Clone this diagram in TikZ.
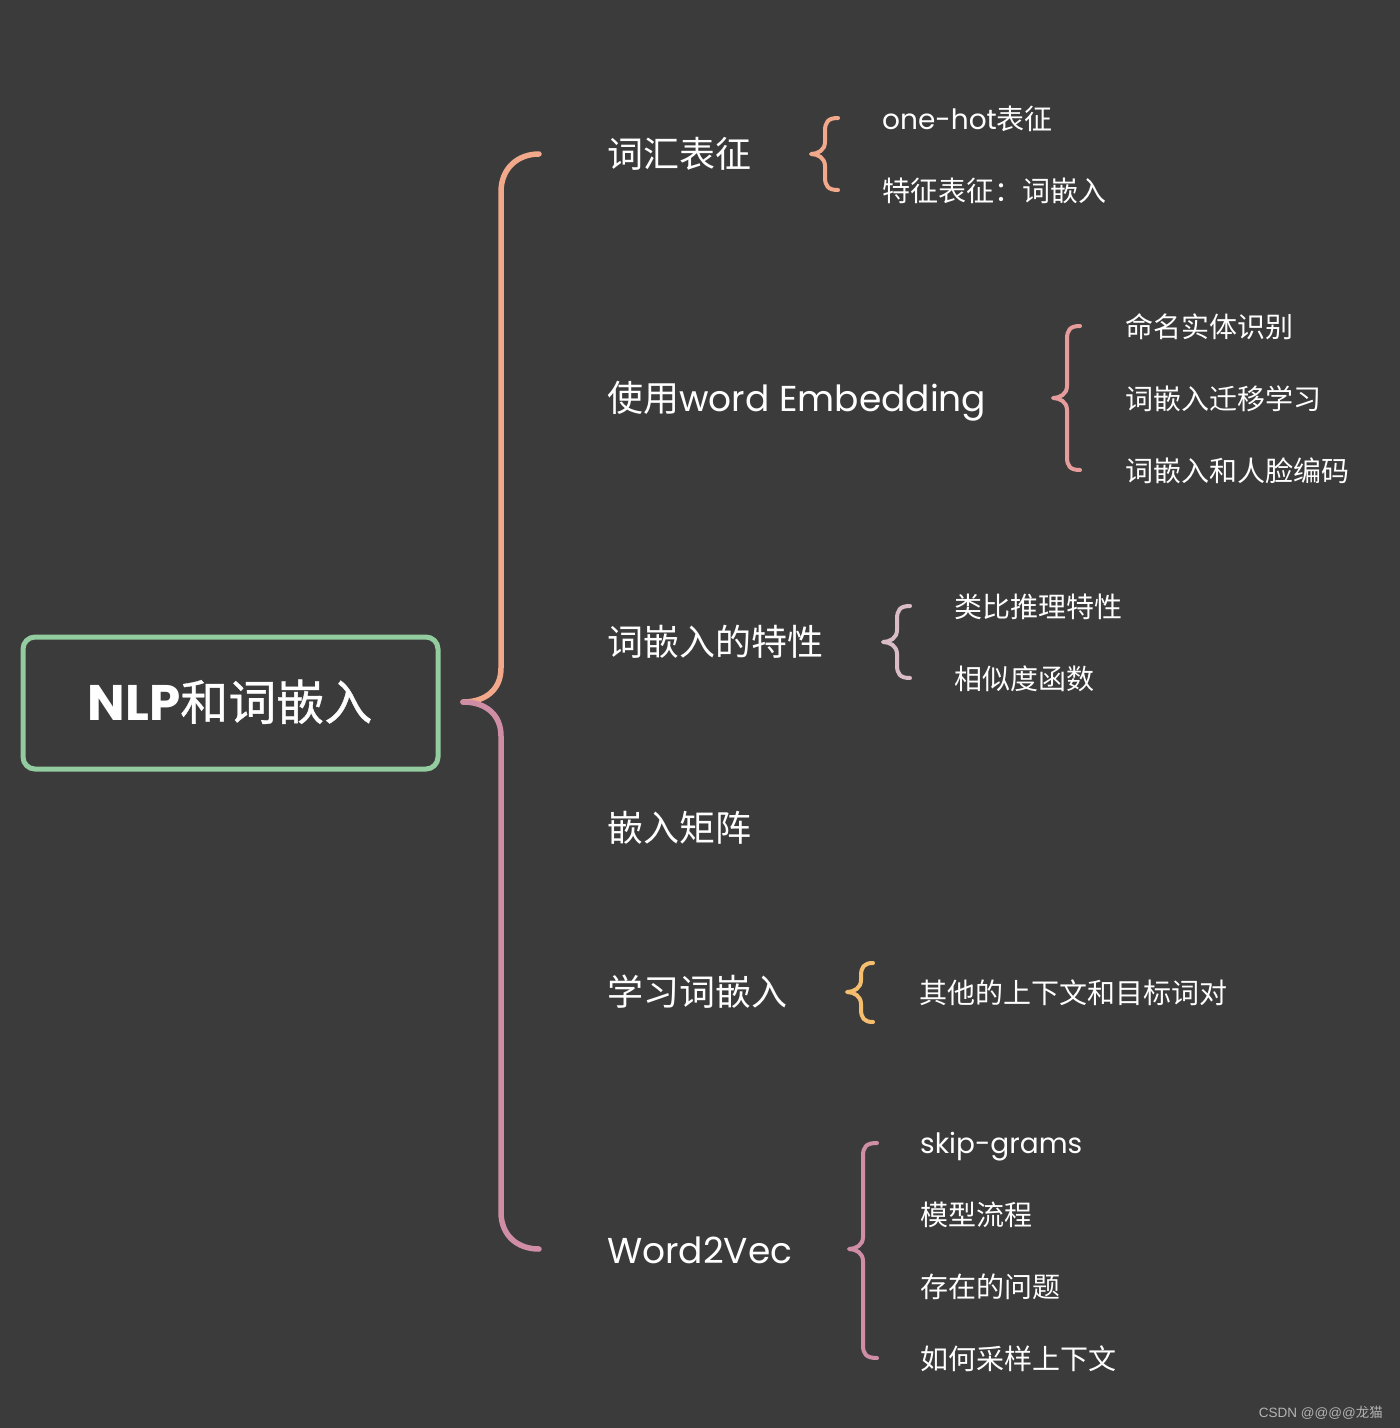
\documentclass[tikz,border=0pt]{standalone}
\usepackage{fontspec}
\setmainfont{Poppins}
\newfontfamily\cjk{Noto Sans CJK SC}
\newfontfamily\cjkfb[FakeBold=0.8]{Noto Sans CJK SC}
\newfontfamily\wmfont{Liberation Sans}
\newcommand\zh[1]{{\cjk #1}}
\definecolor{bgc}{HTML}{3B3B3B}
\definecolor{rootc}{HTML}{92CC9F}
\definecolor{salmon}{HTML}{F2A88A}
\definecolor{pinkc}{HTML}{D08EA6}
\definecolor{rosec}{HTML}{E79C9C}
\definecolor{lilac}{HTML}{D9BCC6}
\definecolor{amber}{HTML}{F5BE6E}
\definecolor{wmc}{HTML}{B4B4B4}
\tikzset{
  bigbrace/.style={line width=5.5pt, line cap=round, line join=round},
  subbrace/.style={line width=4pt, line cap=round, line join=round},
  branch/.style={anchor=base west, inner sep=0pt, text=white, font=\fontsize{36}{40}\selectfont},
  leaf/.style={anchor=base west, inner sep=0pt, text=white, font=\fontsize{28}{32}\selectfont},
}
% color, tip x, tip y, top y, bottom y, end x
\newcommand\mybrace[6]{%
  \draw[subbrace,#1] (#6,#4) .. controls ({#2+17},#4) and ({#2+14},{#4+4}) .. ({#2+14},{#4+13})
    -- ({#2+14},{#3-12}) .. controls ({#2+14},{#3-4}) and ({#2+7},#3) .. (#2,#3)
    .. controls ({#2+7},#3) and ({#2+14},{#3+4}) .. ({#2+14},{#3+12})
    -- ({#2+14},{#5-13}) .. controls ({#2+14},{#5-4}) and ({#2+17},#5) .. (#6,#5);}
\begin{document}
\begin{tikzpicture}[x=1pt,y=-1pt]
\fill[bgc] (0,0) rectangle (1400,1428);
\useasboundingbox (0,0) rectangle (1400,1428);
% root
\draw[rootc, line width=5pt, rounded corners=12pt] (23,637) rectangle (438,769);
\node[anchor=base, inner sep=0pt, text=white, font=\fontsize{48}{50}\selectfont] (root) at (230,720) {{\fontsize{50}{52}\selectfont\bfseries NLP}{\cjkfb 和词嵌入}};
% big brace
\coordinate (tip) at (463,702);
\coordinate (topend) at (539,154);
\coordinate (botend) at (539,1249);
\draw[bigbrace, salmon] (topend) .. controls (518,154) and (501,168) .. (501,192)
  -- (501,668) .. controls (501,690) and (485,702) .. (tip);
\draw[bigbrace, pinkc] (tip) .. controls (485,702) and (501,714) .. (501,736)
  -- (501,1212) .. controls (501,1236) and (518,1249) .. (botend);
% branches
\node[branch] (b1) at (607,167) {\zh{词汇表征}};
\node[branch] (b2) at (607,411) {\zh{使用}word Embedding};
\node[branch] (b3) at (607,655) {\zh{词嵌入的特性}};
\node[branch] (b4) at (607,841) {\zh{嵌入矩阵}};
\node[branch] (b5) at (607,1005) {\zh{学习词嵌入}};
\node[branch] (b6) at (607,1263) {Word2Vec};
% sub braces
\mybrace{salmon}{811}{154}{118}{190}{838}
\mybrace{rosec}{1053}{398}{326}{470}{1080}
\mybrace{lilac}{883}{642}{606}{678}{910}
\mybrace{amber}{847}{992}{963}{1022}{873}
\mybrace{pinkc}{849}{1249}{1143}{1358}{877}
% leaves
\node[leaf] (l11) at (882,129) {one-hot\zh{表征}};
\node[leaf] (l12) at (882,201) {\zh{特征表征：词嵌入}};
\node[leaf] (l21) at (1125,337) {\zh{命名实体识别}};
\node[leaf] (l22) at (1125,409) {\zh{词嵌入迁移学习}};
\node[leaf] (l23) at (1125,481) {\zh{词嵌入和人脸编码}};
\node[leaf] (l31) at (954,617) {\zh{类比推理特性}};
\node[leaf] (l32) at (954,689) {\zh{相似度函数}};
\node[leaf] (l41) at (919,1003) {\zh{其他的上下文和目标词对}};
\node[leaf] (l51) at (920,1153) {skip-grams};
\node[leaf] (l52) at (920,1225) {\zh{模型流程}};
\node[leaf] (l53) at (920,1297) {\zh{存在的问题}};
\node[leaf] (l54) at (920,1369) {\zh{如何采样上下文}};
% watermark
\node[anchor=base east, inner sep=0pt, text=wmc, font=\wmfont\fontsize{13.5}{16}\selectfont] (wm) at (1383,1417) {CSDN @@@@\zh{龙猫}};
\end{tikzpicture}
\end{document}
